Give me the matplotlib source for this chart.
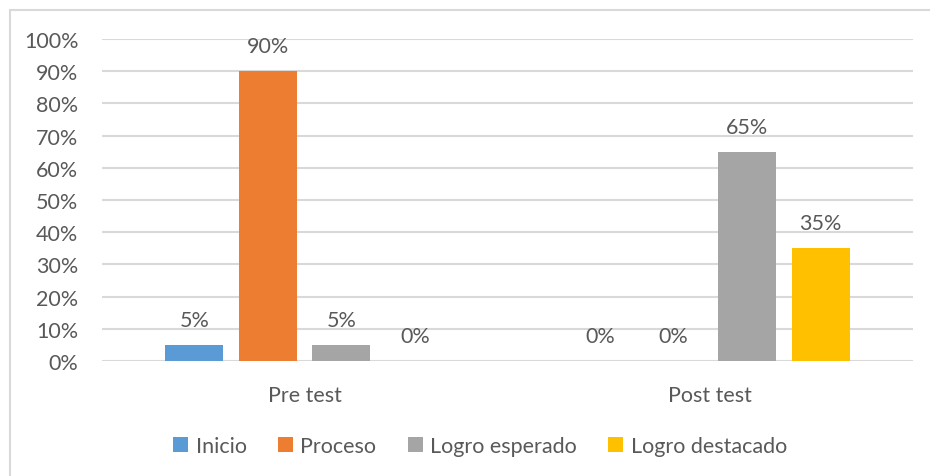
import matplotlib
matplotlib.use("Agg")
import matplotlib.pyplot as plt
from matplotlib.patches import Rectangle
import numpy as np

categories = ["Pre test", "Post test"]
series_names = ["Inicio", "Proceso", "Logro esperado", "Logro destacado"]
inicio = [0.05, 0.00]
proceso = [0.90, 0.00]
logro_esperado = [0.05, 0.65]
logro_destacado = [0.00, 0.35]
yticks = [0, 0.1, 0.2, 0.3, 0.4, 0.5, 0.6, 0.7, 0.8, 0.9, 1.0]
ytick_labels = ["0%", "10%", "20%", "30%", "40%", "50%", "60%", "70%", "80%", "90%", "100%"]

colors = ["#5B9BD5", "#ED7D31", "#A5A5A5", "#FFC000"]
text_color = "#595959"
grid_color = "#D9D9D9"

plt.rcParams['font.family'] = ['Lato', 'DejaVu Sans']
FS = 15.5

W, H = 930, 477
fig = plt.figure(figsize=(W / 100, H / 100), dpi=100)
ax = fig.add_axes([102 / W, (H - 362) / H, (913 - 102) / W, (362 - 40) / H])

# Chart border
fig.patches.append(Rectangle((9.5 / W, -0.05), 1.2, (H - 10.5) / H + 0.05,
                             transform=fig.transFigure, fill=False,
                             edgecolor=grid_color, linewidth=1.5))

values = [inicio, proceso, logro_esperado, logro_destacado]
x = np.arange(len(categories))
offsets = [-0.272, -0.0906, 0.0906, 0.272]
bw = 0.143
for vals, name, col, off in zip(values, series_names, colors, offsets):
    bars = ax.bar(x + off, vals, width=bw, color=col, label=name, zorder=3)
    for b, v in zip(bars, vals):
        ax.annotate(f"{round(v * 100)}%", (b.get_x() + b.get_width() / 2, v),
                    xytext=(0, 25), textcoords="offset pixels",
                    ha="center", va="center", fontsize=FS, color=text_color)

ax.set_xlim(-0.5, 1.5)
ax.set_ylim(0, 1.0)
ax.set_yticks(yticks)
ax.set_yticklabels(ytick_labels)
ax.set_xticks(x)
ax.set_xticklabels(categories)
ax.tick_params(axis="both", length=0, labelsize=FS, colors=text_color)
ax.tick_params(axis="x", pad=17)
ax.tick_params(axis="y", pad=17)
ax.grid(axis="y", color=grid_color, linewidth=1.5, zorder=0)
for s in ax.spines.values():
    s.set_visible(False)
ax.set_axisbelow(True)

leg = fig.legend(loc="center", bbox_to_anchor=(480 / W, (H - 447) / H), ncol=4,
                 frameon=False, fontsize=FS, handlelength=0.7, handleheight=0.7,
                 handletextpad=0.35, columnspacing=1.45, labelcolor=text_color)

fig.savefig("out.png", dpi=100)
